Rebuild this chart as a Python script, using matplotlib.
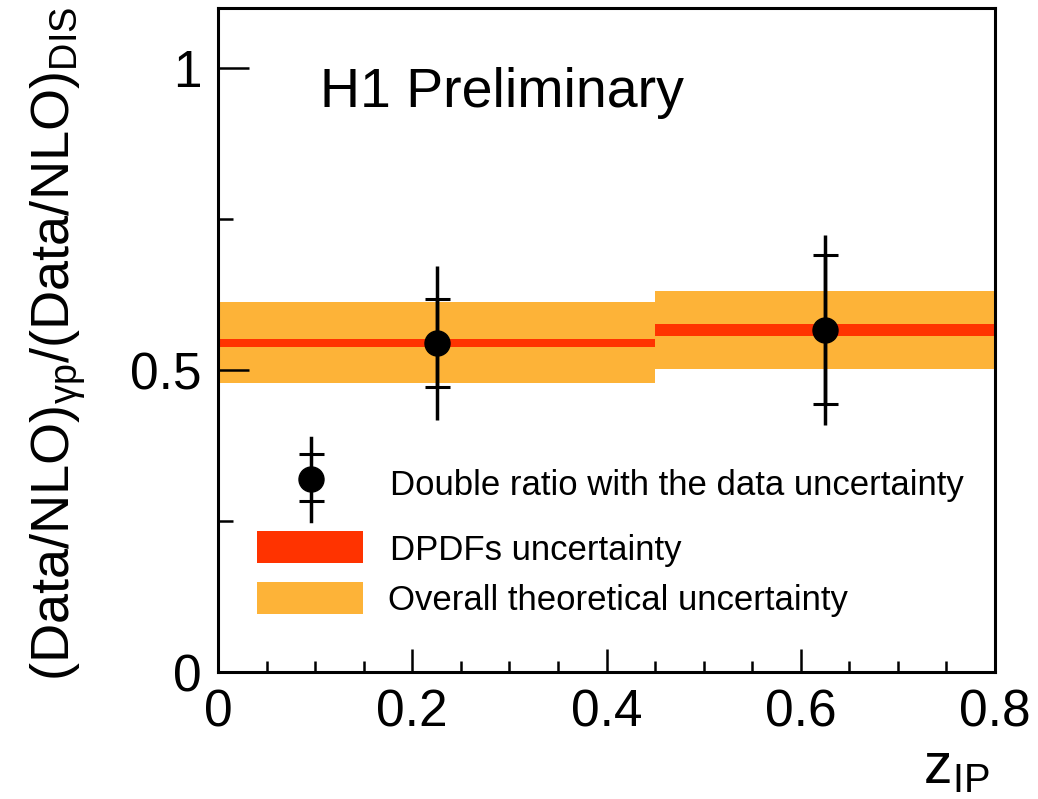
import numpy as np
import matplotlib
matplotlib.use("Agg")
import matplotlib.pyplot as plt
from matplotlib.ticker import MultipleLocator, AutoMinorLocator
from matplotlib.patches import Rectangle

plt.rcParams['font.family'] = ['Liberation Sans', 'DejaVu Sans']
plt.rcParams['mathtext.fontset'] = 'custom'
plt.rcParams['mathtext.rm'] = 'Liberation Sans'
plt.rcParams['mathtext.it'] = 'Liberation Sans:italic'

# bins in z_IP
bin_edges = np.array([0.0, 0.45, 0.8])
z_centers = np.array([0.225, 0.625])

# double ratio and data uncertainties
ratio = np.array([0.544, 0.566])
stat_lo = np.array([0.472, 0.443])
stat_hi = np.array([0.618, 0.690])
tot_lo = np.array([0.417, 0.409])
tot_hi = np.array([0.673, 0.724])

# theory bands
dpdf_lo = np.array([0.538, 0.557])
dpdf_hi = np.array([0.551, 0.576])
theo_lo = np.array([0.479, 0.502])
theo_hi = np.array([0.613, 0.630])

orange = '#fdb338'
red = '#ff3300'

W, H = 1038, 799
fig = plt.figure(figsize=(W / 100, H / 100), dpi=100)
ax = fig.add_axes([218 / W, (H - 672) / H, 777 / W, 664.4 / H])

widths = np.diff(bin_edges)
ax.bar(bin_edges[:-1], theo_hi - theo_lo, bottom=theo_lo, width=widths,
       align='edge', color=orange, linewidth=0, zorder=1)
ax.bar(bin_edges[:-1], dpdf_hi - dpdf_lo, bottom=dpdf_lo, width=widths,
       align='edge', color=red, linewidth=0, zorder=2)

ax.errorbar(z_centers, ratio, yerr=[ratio - tot_lo, tot_hi - ratio],
            fmt='none', ecolor='k', elinewidth=2.5, capsize=0, zorder=3)
ax.errorbar(z_centers, ratio, yerr=[ratio - stat_lo, stat_hi - ratio],
            fmt='o', color='k', ms=18, elinewidth=2.5, capsize=9,
            capthick=2.2, zorder=4)

ax.set_xlim(0, 0.8)
ax.set_ylim(0, 1.1)
ax.xaxis.set_minor_locator(AutoMinorLocator(4))
ax.yaxis.set_minor_locator(AutoMinorLocator(2))
ax.set_xticks([0, 0.2, 0.4, 0.6, 0.8])
ax.set_xticklabels(['0', '0.2', '0.4', '0.6', '0.8'])
ax.set_yticks([0, 0.5, 1.0])
ax.set_yticklabels(['0', '0.5', '1'])

ax.tick_params(axis='both', which='both', direction='in', top=False,
               right=False, width=1.8, labelsize=37, pad=12)
ax.tick_params(axis='y', which='major', length=22)
ax.tick_params(axis='y', which='minor', length=11)
ax.tick_params(axis='x', which='major', length=16.5)
ax.tick_params(axis='x', which='minor', length=8)
for s in ax.spines.values():
    s.set_linewidth(2.2)

# text
ax.text((320 - 218) / 777, (672 - 106.7) / 664.4, 'H1 Preliminary',
        transform=ax.transAxes, fontsize=40, va='baseline', ha='left')

fig.text(58 / W, 1 - 344 / H,
         r'(Data/NLO)$_{\mathrm{γp}}$/(Data/NLO)$_{\mathrm{DIS}}$',
         rotation=90, ha='center', va='center', fontsize=39)
fig.text(990 / W, 1 - 783 / H, r'z$_{\mathrm{IP}}$', ha='right',
         va='baseline', fontsize=41)

# legend drawn by hand
def xf(px):
    return (px - 218) / 777

def yf(py):
    return (672 - py) / 664.4

tr = ax.transAxes
lx = xf(311)
ax.plot([lx, lx], [yf(521), yf(438)], transform=tr, color='k', lw=2.5,
        clip_on=False, zorder=5)
ax.plot([lx, lx], [yf(454), yf(501)], transform=tr, ls='none', marker='_',
        ms=18, mew=2.2, color='k', zorder=5)
ax.plot([lx], [yf(479)], transform=tr, ls='none', marker='o', ms=18,
        color='k', zorder=5)
ax.add_patch(Rectangle((xf(257), yf(563)), xf(363) - xf(257),
                       yf(531) - yf(563), transform=tr, color=red, lw=0))
ax.add_patch(Rectangle((xf(257), yf(614)), xf(363) - xf(257),
                       yf(582) - yf(614), transform=tr, color=orange, lw=0))
ax.text(xf(390), yf(495), 'Double ratio with the data uncertainty',
        transform=tr, fontsize=25, va='baseline')
ax.text(xf(390), yf(560), 'DPDFs uncertainty', transform=tr, fontsize=25,
        va='baseline')
ax.text(xf(388), yf(610), 'Overall theoretical uncertainty', transform=tr,
        fontsize=25, va='baseline')

fig.savefig('out.png', dpi=100)
